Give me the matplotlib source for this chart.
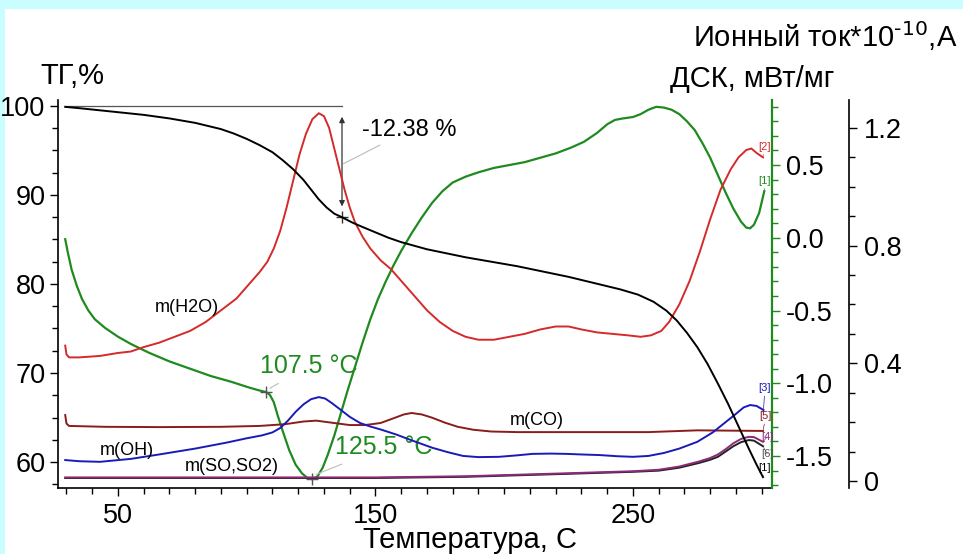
import numpy as np
import matplotlib
matplotlib.use('Agg')
import matplotlib.pyplot as plt
from matplotlib.ticker import MultipleLocator, FixedLocator, FixedFormatter, FormatStrFormatter
from matplotlib.patches import Rectangle

plt.rcParams['font.family'] = ['Liberation Sans', 'DejaVu Sans']

# ---------------- data ----------------
tg_temp = [29.5, 35, 40, 50, 60, 70, 80, 90, 95, 100, 105, 110, 114, 118, 122, 125, 128, 131,
           134, 137, 141, 145, 150, 155, 160, 165, 170, 175, 185, 195, 205, 215, 225, 235, 245,
           252, 258, 263, 267, 271, 275, 279, 283, 287, 291, 295, 298, 300.5]
tg_val = [99.9, 99.75, 99.6, 99.3, 99.0, 98.6, 98.1, 97.4, 96.9, 96.3, 95.6, 94.8, 93.9, 92.9,
          91.7, 90.6, 89.5, 88.6, 87.9, 87.5, 86.9, 86.4, 85.8, 85.2, 84.7, 84.3, 83.9, 83.6,
          83.0, 82.5, 82.0, 81.4, 80.8, 80.1, 79.4, 78.8, 78.0, 77.0, 75.9, 74.5, 72.9, 71.0,
          68.8, 66.5, 64.0, 61.5, 59.7, 58.3]

dsc_temp = [29.5, 30.5, 32, 34, 36, 38.5, 41, 45, 50, 55, 62, 70, 78, 86, 94, 101, 105, 107.5,
            109, 110.5, 112, 114, 116.5, 119, 121.5, 123.5, 125.5, 127.5, 129.5, 131.5, 134,
            136.5, 139, 142, 145, 148, 151, 154, 157, 160, 164, 168, 172, 176, 180, 185, 190,
            196, 202, 208, 214, 220, 226, 231, 236, 240, 243, 246, 250, 253, 256, 259, 262, 265,
            268, 271, 274, 277, 280, 283, 286, 289, 292, 294, 295.5, 297, 299, 301]
dsc_val = [-0.01, -0.10, -0.22, -0.33, -0.42, -0.50, -0.56, -0.62, -0.68, -0.73, -0.79, -0.85,
           -0.90, -0.95, -0.99, -1.03, -1.05, -1.06, -1.08, -1.13, -1.22, -1.33, -1.46, -1.56,
           -1.62, -1.65, -1.66, -1.64, -1.58, -1.49, -1.36, -1.21, -1.06, -0.89, -0.72, -0.56,
           -0.42, -0.30, -0.19, -0.09, 0.03, 0.14, 0.24, 0.32, 0.38, 0.42, 0.45, 0.48, 0.50,
           0.52, 0.55, 0.58, 0.62, 0.66, 0.72, 0.78, 0.81, 0.82, 0.83, 0.85, 0.88, 0.90, 0.895,
           0.88, 0.85, 0.80, 0.74, 0.65, 0.55, 0.43, 0.31, 0.20, 0.11, 0.07, 0.065, 0.09, 0.17,
           0.32]

h2o_temp = [29.5, 30.0, 31, 35, 43, 50, 55, 60, 66, 72, 78, 84, 90, 96, 101, 105, 108, 110.5,
            113, 115.5, 118, 120.5, 123, 125.5, 128, 130, 132, 134, 136, 138, 140, 142, 145, 148,
            152, 156, 160, 165, 170, 175, 180, 185, 190, 196, 202, 208, 214, 220, 225, 230, 236,
            242, 248, 253, 257, 261, 264, 268, 272, 276, 280, 284, 288, 291, 294, 296, 298, 300.5]
h2o_val = [0.46, 0.43, 0.42, 0.42, 0.425, 0.435, 0.44, 0.455, 0.47, 0.49, 0.51, 0.54, 0.58,
           0.62, 0.67, 0.71, 0.745, 0.79, 0.85, 0.93, 1.02, 1.11, 1.18, 1.23, 1.25, 1.24, 1.20,
           1.13, 1.06, 0.99, 0.93, 0.88, 0.83, 0.79, 0.75, 0.72, 0.68, 0.63, 0.58, 0.54, 0.51,
           0.49, 0.48, 0.48, 0.49, 0.50, 0.515, 0.525, 0.525, 0.515, 0.505, 0.50, 0.495, 0.49,
           0.495, 0.51, 0.54, 0.60, 0.68, 0.78, 0.89, 0.99, 1.06, 1.10, 1.125, 1.13, 1.115, 1.10]

oh_temp = [29.5, 35, 43, 55, 66, 80, 92, 100, 106, 110, 113, 116, 119, 122, 125, 128, 130.5,
           133, 136, 140, 144, 148, 152, 158, 165, 172, 178, 184, 190, 198, 205, 211, 218, 224,
           230, 237, 244, 250, 256, 262, 268, 275, 281, 286, 290, 293, 295.5, 298, 300.7]
oh_val = [0.071, 0.067, 0.065, 0.075, 0.09, 0.11, 0.13, 0.145, 0.155, 0.165, 0.18, 0.205, 0.235,
          0.26, 0.278, 0.285, 0.28, 0.265, 0.245, 0.218, 0.197, 0.185, 0.175, 0.158, 0.135,
          0.113, 0.098, 0.085, 0.081, 0.082, 0.087, 0.092, 0.093, 0.092, 0.09, 0.088, 0.084,
          0.082, 0.085, 0.095, 0.11, 0.133, 0.165, 0.20, 0.228, 0.25, 0.258, 0.255, 0.241]

co_temp = [29.5, 30.0, 31, 45, 66, 90, 105, 115, 122, 127, 133, 140, 146, 152, 157, 161, 164,
           168, 172, 177, 182, 188, 195, 205, 256, 275, 300.5]
co_val = [0.224, 0.195, 0.187, 0.184, 0.183, 0.184, 0.187, 0.193, 0.202, 0.205, 0.198, 0.19,
          0.19, 0.197, 0.213, 0.226, 0.231, 0.226, 0.215, 0.198, 0.184, 0.174, 0.168, 0.166,
          0.166, 0.172, 0.170]

so_temp = [29.5, 150, 185, 224, 250, 260, 268, 275.6, 280, 283, 286, 289, 292, 295, 297, 300.5]
so_val = [0.010, 0.010, 0.014, 0.024, 0.031, 0.035, 0.045, 0.061, 0.072, 0.082, 0.100, 0.118,
          0.132, 0.139, 0.137, 0.118]

m4_temp = [29.5, 150, 185, 224, 250, 260, 268, 275.6, 280, 283, 286, 289, 292, 295, 297, 300.5]
m4_val = [0.012, 0.012, 0.016, 0.026, 0.033, 0.038, 0.049, 0.066, 0.078, 0.090, 0.108, 0.128,
          0.143, 0.150, 0.149, 0.133]

tg_step_temp = 137.0
tg_step_text = "-12.38 %"
peak1_temp = 107.5
peak2_temp = 125.5

x_ticks = [50, 150, 250]
tg_ticks = [60, 70, 80, 90, 100]
dsc_ticks = [-1.5, -1.0, -0.5, 0.0, 0.5]
ion_ticks = [0, 0.4, 0.8, 1.2]
ion_tick_labels = ['0', '0.4', '0.8', '1.2']

# ---------------- styling ----------------
W, H = 963, 554
C_TG = 'black'
C_DSC = '#1f8a1f'
C_H2O = '#d42a2a'
C_OH = '#1a1ab8'
C_CO = '#8b1c1c'
C_SO = '#222222'
C_M4 = '#8a2a78'
TICK_FS = 19.5
TITLE_FS = 21

fig = plt.figure(figsize=(W / 100, H / 100), dpi=100, facecolor='#c9fdff')
fig.patches.append(Rectangle((5 / W, 0), 1, 1 - 9 / H, transform=fig.transFigure,
                             facecolor='white', edgecolor='none', zorder=-10))

L, R, B, T = 58, 772, 488, 100
ax = fig.add_axes([L / W, 1 - B / H, (R - L) / W, (B - T) / H])
ax.patch.set_visible(False)
ax2 = ax.twinx()
ax3 = ax.twinx()

ax.set_xlim(26.7, 304.0)
ax.set_ylim(57.08, 100.67)
ax2.set_ylim(-1.72, 0.947)
ax3.set_ylim(-0.024, 1.295)

for s in ['top', 'right']:
    ax.spines[s].set_visible(False)
for a in (ax2, ax3):
    for s in ['top', 'left', 'bottom']:
        a.spines[s].set_visible(False)
ax2.spines['right'].set_color(C_DSC)
ax2.spines['right'].set_linewidth(1.6)
ax3.spines['right'].set_position(('axes', (849 - L) / (R - L)))
for s in ['left', 'bottom']:
    ax.spines[s].set_linewidth(1.2)
ax3.spines['right'].set_linewidth(1.2)

# ticks
ax.xaxis.set_major_locator(FixedLocator(x_ticks))
ax.xaxis.set_minor_locator(MultipleLocator(10))
ax.yaxis.set_major_locator(FixedLocator(tg_ticks))
ax.yaxis.set_minor_locator(MultipleLocator(2.5))
ax.tick_params(which='major', length=6, width=1, labelsize=TICK_FS, direction='out', pad=3)
ax.tick_params(axis='x', which='major', pad=5)
ax.tick_params(which='minor', length=4, width=1, direction='out')

ax2.yaxis.set_major_locator(FixedLocator(dsc_ticks))
ax2.yaxis.set_major_formatter(FormatStrFormatter('%.1f'))
ax2.yaxis.set_minor_locator(MultipleLocator(0.1))
ax2.tick_params(which='major', length=6, width=1, color=C_DSC, labelcolor='black',
                labelsize=TICK_FS, pad=4)
ax2.tick_params(which='minor', length=4, width=1, color=C_DSC)

ax3.yaxis.set_major_locator(FixedLocator(ion_ticks))
ax3.yaxis.set_major_formatter(FixedFormatter(ion_tick_labels))
ax3.yaxis.set_minor_locator(MultipleLocator(0.1))
ax3.tick_params(which='major', length=6, width=1, labelsize=TICK_FS, pad=5)
ax3.tick_params(which='minor', length=4, width=1)

# curves
LW = 1.4
ax3.plot(so_temp, so_val, color=C_SO, lw=LW)
ax3.plot(m4_temp, m4_val, color=C_M4, lw=LW)
ax3.plot(co_temp, co_val, color=C_CO, lw=LW)
ax3.plot(oh_temp, oh_val, color=C_OH, lw=LW)
ax3.plot(h2o_temp, h2o_val, color=C_H2O, lw=LW)
ax2.plot(dsc_temp, dsc_val, color=C_DSC, lw=LW + 0.2)
ax3.plot(tg_temp, tg_val, color=C_TG, lw=LW, transform=ax.transData)

# end labels
end_fs = 8
def end_label(axis, xs, ys, txt, color, dx, dy):
    axis.annotate(txt, xy=(xs[-1], ys[-1]), xytext=(dx, dy), textcoords='offset points',
                  fontsize=end_fs, color=color, ha='center', va='bottom',
                  arrowprops=dict(arrowstyle='-', color=color, lw=0.5, shrinkA=0, shrinkB=1))

end_label(ax3, h2o_temp, h2o_val, '[2]', C_H2O, 1, 4)
end_label(ax2, dsc_temp, dsc_val, '[1]', C_DSC, 0, 4)
end_label(ax3, oh_temp, oh_val, '[3]', C_OH, 1, 12)
end_label(ax3, co_temp, co_val, '[5]', C_CO, 2, 7)
end_label(ax3, m4_temp, m4_val, '[4]', C_M4, 3, 0)
end_label(ax3, so_temp, so_val, '[6]', '#555555', 3, -9)
end_label(ax, tg_temp, tg_val, '[1]', C_TG, 1, 3)

# TG step annotation
tg0 = 100.0
tg_at_step = float(np.interp(tg_step_temp, tg_temp, tg_val))
ax.plot([tg_temp[0], tg_step_temp], [tg0, tg0], color='#555555', lw=0.9)
ax.annotate('', xy=(tg_step_temp, tg_at_step + 0.9), xytext=(tg_step_temp, tg0 - 0.9),
            arrowprops=dict(arrowstyle='<|-|>', color='#333333', lw=0.9, mutation_scale=8))
ax.plot([tg_step_temp], [tg_at_step], marker='+', color='#333333', ms=9, mew=1)
ax.annotate(tg_step_text, xy=(tg_step_temp + 0.5, 93.5), xytext=(144.8, 97.3),
            fontsize=17, color='black', ha='left', va='center',
            arrowprops=dict(arrowstyle='-', color='#bbbbbb', lw=0.8, shrinkA=2, shrinkB=0))

# DSC peak annotations
p1 = float(np.interp(peak1_temp, dsc_temp, dsc_val))
p2 = float(np.interp(peak2_temp, dsc_temp, dsc_val))
ax2.plot([peak1_temp], [p1], marker='+', color='#555555', ms=9, mew=1)
ax2.plot([peak2_temp], [p2], marker='+', color='#555555', ms=9, mew=1)
ax2.annotate(f'{peak1_temp:.1f} °C', xy=(peak1_temp + 1, p1 + 0.02), xytext=(105.0, -0.88),
             fontsize=18, color=C_DSC, ha='left', va='center',
             arrowprops=dict(arrowstyle='-', color='#bbbbbb', lw=0.8, shrinkA=4, shrinkB=1))
ax2.annotate(f'{peak2_temp:.1f} °C', xy=(peak2_temp + 1, p2 + 0.03), xytext=(134.3, -1.44),
             fontsize=18, color=C_DSC, ha='left', va='center',
             arrowprops=dict(arrowstyle='-', color='#bbbbbb', lw=0.8, shrinkA=4, shrinkB=1))

# curve name labels
ax3.text(64.4, 0.588, 'm(H2O)', fontsize=13, ha='left', va='center')
ax3.text(43.0, 0.105, 'm(OH)', fontsize=13, ha='left', va='center')
ax3.text(76.0, 0.048, 'm(SO,SO2)', fontsize=13, ha='left', va='center')
ax3.text(202.2, 0.204, 'm(CO)', fontsize=13, ha='left', va='center')

# titles
fig.text(40 / W, 1 - 84 / H, 'ТГ,%', fontsize=TITLE_FS, ha='left', va='baseline')
fig.text(752 / W, 1 - 87 / H, 'ДСК, мВт/мг', fontsize=TITLE_FS, ha='center', va='baseline')
fig.text(957 / W, 1 - 47 / H, 'Ионный ток*10$^{\\text{-10}}$,А', fontsize=TITLE_FS,
         ha='right', va='baseline')
fig.text(470 / W, 1 - 548 / H, 'Температура, C', fontsize=21, ha='center', va='baseline')

fig.savefig('out.png', dpi=100, facecolor=fig.get_facecolor())
